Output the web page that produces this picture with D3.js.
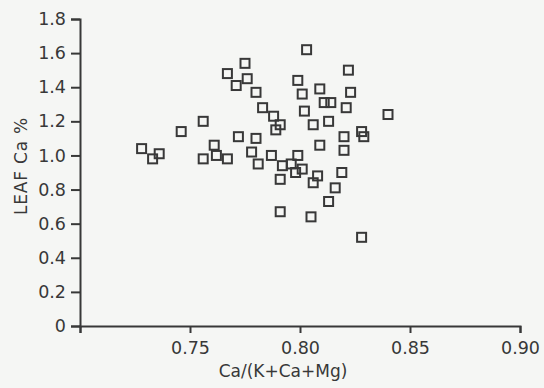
<!DOCTYPE html>
<html>
<head>
<meta charset="utf-8">
<script src="https://cdn.jsdelivr.net/npm/d3@7"></script>
<style>
body{margin:0;background:#f5f6f4;}
svg{display:block;font-family:"DejaVu Sans",sans-serif;}
</style>
</head>
<body>
<svg id="svg" width="544" height="388"></svg>
<script>
// ratio Ca/(K+Ca+Mg) and leaf Ca %
var ratio=[0.728,0.733,0.736,0.746,0.756,0.756,0.761,0.762,0.767,0.767,
           0.771,0.775,0.776,0.780,0.772,0.780,0.778,0.783,0.788,0.791,
           0.789,0.781,0.787,0.792,0.796,0.799,0.798,0.801,0.808,0.806,
           0.791,0.805,0.828,0.809,0.820,0.819,0.816,0.813,0.803,0.799,
           0.801,0.809,0.822,0.823,0.802,0.811,0.814,0.821,0.806,0.813,
           0.840,0.820,0.828,0.829,0.791]
var leafCa=[1.04,0.98,1.01,1.14,1.20,0.98,1.06,1.00,0.98,1.48,
            1.41,1.54,1.45,1.37,1.11,1.10,1.02,1.28,1.23,1.18,
            1.15,0.95,1.00,0.94,0.95,1.00,0.90,0.92,0.88,0.84,
            0.67,0.64,0.52,1.06,1.03,0.90,0.81,0.73,1.62,1.44,
            1.36,1.39,1.50,1.37,1.26,1.31,1.31,1.28,1.18,1.20,
            1.24,1.11,1.14,1.11,0.86]
var yTicks=[0,0.2,0.4,0.6,0.8,1.0,1.2,1.4,1.6,1.8]
var xTicks=[0.70,0.75,0.80,0.85,0.90]

var ink="#383838"
var svg=d3.select("#svg")

var x=d3.scaleLinear().domain([0.70,0.90]).range([80,520])
var y=d3.scaleLinear().domain([0,1.8]).range([326,19])

//y axis
var yAxis=svg.append("g")
        .attr("transform","translate(80,0)")
        .call(d3.axisLeft(y).tickValues(yTicks).tickSize(9).tickPadding(5)
            .tickFormat(d=>d===0?"0":d3.format(".1f")(d)))

//x axis, no label at the origin
var xAxis=svg.append("g")
        .attr("transform","translate(0,326)")
        .call(d3.axisBottom(x).tickValues(xTicks).tickSize(7).tickPadding(9)
            .tickFormat(d=>d===0.70?"":d3.format(".2f")(d)))

svg.selectAll(".domain, .tick line")
        .style("stroke",ink)
        .style("stroke-width","2px")
svg.selectAll(".tick text")
        .style("fill",ink)
        .style("font-size","17.5px")
        .style("font-family","DejaVu Sans, sans-serif")

//points
svg.append("g").selectAll("rect")
    .data(ratio)
    .enter().append("rect")
        .attr("x",(d,i)=>x(d)-4.5)
        .attr("y",(d,i)=>y(leafCa[i])-4.5)
        .attr("width",9)
        .attr("height",9)
        .style("fill","none")
        .style("stroke",ink)
        .style("stroke-width","2px")

//axis titles
svg.append("text")
        .text("Ca/(K+Ca+Mg)")
        .attr("x",283)
        .attr("y",377)
        .attr("text-anchor","middle")
        .style("fill",ink)
        .style("font-size","17px")

svg.append("text")
        .text("LEAF Ca %")
        .attr("transform","translate(27,166) rotate(-90)")
        .attr("text-anchor","middle")
        .style("fill",ink)
        .style("font-size","17px")
        .style("letter-spacing","0.8px")
</script>
</body>
</html>
